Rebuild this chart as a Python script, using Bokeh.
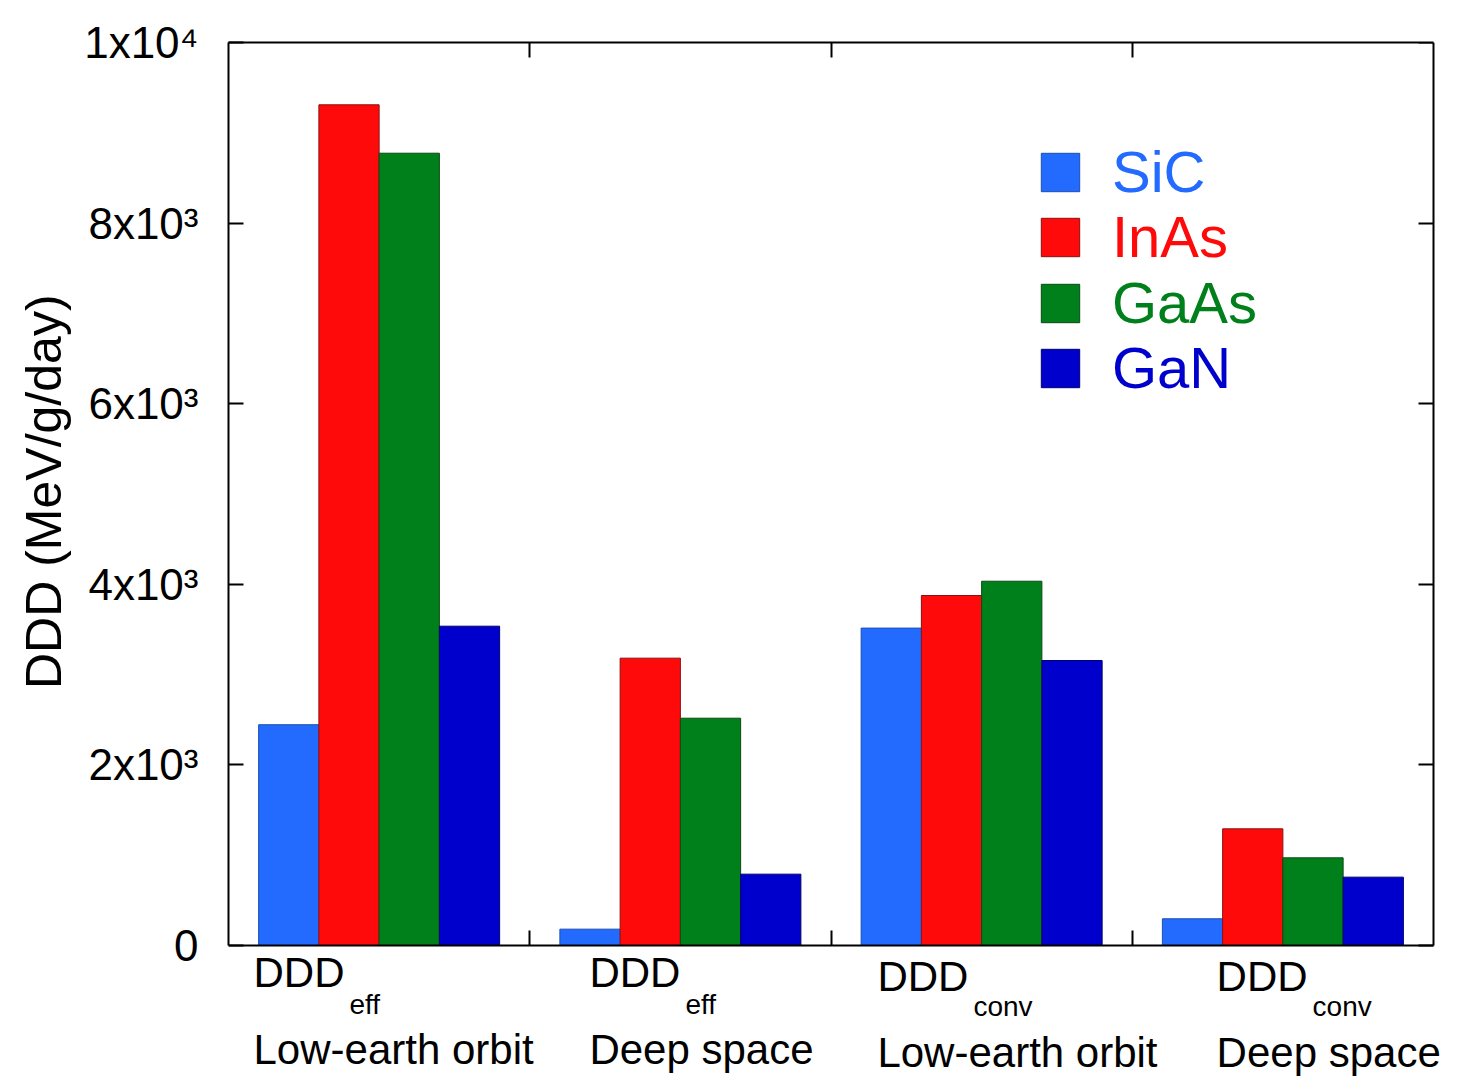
from bokeh.plotting import figure
from bokeh.models import Range1d, FixedTicker, Legend, LegendItem, LinearAxis, ColumnDataSource, Title
from bokeh.core.properties import value
from bokeh.embed import file_html
from bokeh.resources import INLINE
import numpy as np

# ---- data ----
group_main = ["DDD", "DDD", "DDD", "DDD"]
group_sub = ["eff", "eff", "conv", "conv"]
group_env = ["Low-earth orbit", "Deep space", "Low-earth orbit", "Deep space"]
materials = ["SiC", "InAs", "GaAs", "GaN"]
sic = [2445, 181, 3515, 296]
inas = [9310, 3182, 3876, 1292]
gaas = [8774, 2517, 4034, 971]
gan = [3536, 790, 3156, 757]
series = [sic, inas, gaas, gan]
colors = ["#236BFF", "#FF0A0A", "#00801A", "#0000CC"]
line_colors = ["#1d4fb0", "#8a1010", "#0b4a14", "#00006e"]
y_ticks = [0, 2000, 4000, 6000, 8000, 10000]
y_tick_labels = ["0", "2x10³", "4x10³", "6x10³", "8x10³", "1x10⁴"]
y_title = "DDD (MeV/g/day)"
Y_MAX = 10000

FONT = "Liberation Sans"
n = len(group_main)

# ---- layout (pixels) ----
W, H = 1472, 1078
LEFT, RIGHT, TOP, BOTTOM = 228, 4, 42, 1
BOX_RIGHT, BOX_BOTTOM = 1433, 945          # where the axes box ends
unit_x = (BOX_RIGHT - LEFT) / n            # px per group
unit_y = (BOX_BOTTOM - TOP) / Y_MAX        # px per value unit
frame_right = W - RIGHT
frame_bottom = H - BOTTOM
x_end = n + (frame_right - BOX_RIGHT) / unit_x
y_start = -(frame_bottom - BOX_BOTTOM) / unit_y

p = figure(width=W, height=H, output_backend="svg", toolbar_location=None,
           x_range=Range1d(0, x_end), y_range=Range1d(y_start, Y_MAX),
           min_border_left=LEFT, min_border_right=RIGHT, min_border_top=TOP,
           min_border_bottom=BOTTOM)
p.xgrid.visible = False
p.ygrid.visible = False
p.outline_line_color = None
p.background_fill_color = "white"
p.border_fill_color = "white"

centers = np.arange(n) + 0.5
bw = 0.2
offsets = [-0.3, -0.1, 0.1, 0.3]
renderers = []
for vals, off, c, lc in zip(series, offsets, colors, line_colors):
    src = ColumnDataSource(dict(x=centers + off, top=vals))
    r = p.vbar(x="x", top="top", width=bw, bottom=0, source=src,
               fill_color=c, line_color=lc, line_width=1)
    renderers.append(r)

# y axis (left)
yax = p.yaxis[0]
yax.ticker = FixedTicker(ticks=y_ticks)
yax.bounds = (0, Y_MAX)
yax.major_label_overrides = {t: l for t, l in zip(y_ticks, y_tick_labels)}
yax.major_label_text_font = FONT
yax.major_label_text_font_size = "44px"
yax.major_label_text_color = "black"
yax.major_label_standoff = 30
yax.major_tick_in = 15
yax.major_tick_out = 0
yax.major_tick_line_width = 2
yax.minor_tick_line_color = None
yax.axis_line_width = 2

# y axis title, placed so that it is centred on the box (not on the taller frame)
box_mid = (TOP + BOX_BOTTOM) / 2
title_len = 390
p.add_layout(Title(text=y_title, align="left", offset=frame_bottom - (box_mid + title_len / 2),
                   text_font=FONT, text_font_size="50px", text_font_style="normal",
                   text_color="black", standoff=20), "left")

# right axis ticks only, placed at the box edge
rax = LinearAxis(ticker=FixedTicker(ticks=y_ticks), bounds=(0, Y_MAX), fixed_location=n,
                 major_tick_in=15, major_tick_out=0,
                 major_tick_line_width=2, minor_tick_line_color=None,
                 major_label_text_font_size="0px", major_label_standoff=0, axis_line_width=2)
p.add_layout(rax, "right")

# x axes: ticks at group boundaries, no labels
xax = p.xaxis[0]
xax.ticker = FixedTicker(ticks=list(range(1, n)))
xax.bounds = (0, n)
xax.fixed_location = 0
xax.major_label_text_font_size = "0px"
xax.major_label_standoff = 0
xax.major_tick_in = 15
xax.major_tick_out = 0
xax.major_tick_line_width = 2
xax.minor_tick_line_color = None
xax.axis_line_width = 2
tax = LinearAxis(ticker=FixedTicker(ticks=list(range(1, n))), bounds=(0, n),
                 major_tick_in=15, major_tick_out=0,
                 major_tick_line_width=2, minor_tick_line_color=None,
                 major_label_text_font_size="0px", major_label_standoff=0, axis_line_width=2)
p.add_layout(tax, "above")

# legend: one per material so each label gets its own colour
shift = frame_bottom - BOX_BOTTOM
row_centers_from_box_bottom = [774.5, 709.5, 643.5, 578.5]
for r, m, c, yc in zip(renderers, materials, colors, row_centers_from_box_bottom):
    lg = Legend(items=[LegendItem(label=m, renderers=[r])],
                location=(808, int(yc - 34 + shift)), glyph_width=48, glyph_height=48,
                label_text_font=FONT, label_text_font_size="58px", label_text_color=c,
                label_standoff=28, padding=0, margin=0, spacing=0,
                border_line_color=None, background_fill_alpha=0)
    p.add_layout(lg)

# category labels below the box, in the same data units as the bars
label_x = [0.083, 1.198, 2.154, 3.280]
row1_y = [-299, -299, -344, -344]
sub_y = [-650, -650, -680, -680]
row2_y = [-1152, -1152, -1185, -1185]
p.text(x=label_x, y=row1_y, text=group_main, text_font=value(FONT), text_font_size=value("42px"),
       text_baseline="alphabetic", text_align="left", text_color="black")
p.text(x=label_x, y=sub_y, text=group_sub, x_offset=96, text_font=value(FONT),
       text_font_size=value("28px"), text_baseline="alphabetic", text_align="left", text_color="black")
p.text(x=label_x, y=row2_y, text=group_env, text_font=value(FONT), text_font_size=value("42px"),
       text_baseline="alphabetic", text_align="left", text_color="black")

open("out.html", "w").write(file_html(p, INLINE))
